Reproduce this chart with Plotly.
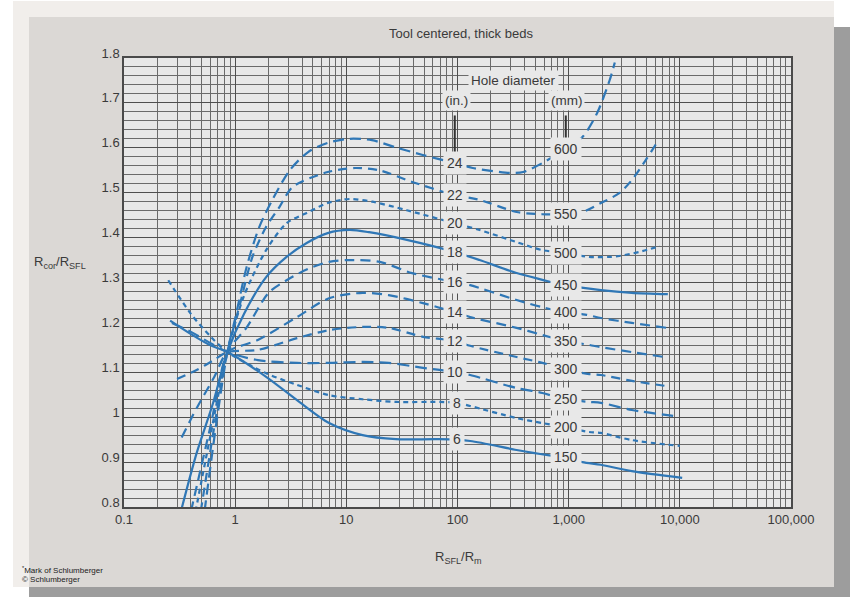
import math
import plotly.graph_objects as go

# ---------------- data ----------------
diam_in = [6, 8, 10, 12, 14, 16, 18, 20, 22, 24]
diam_mm = [150, 200, 250, 300, 350, 400, 450, 500, 550, 600]

c6_x = [0.26, 0.4, 0.6, 0.85, 1.9, 3.6, 7, 14, 28, 69, 130, 340, 630, 920, 1330, 1950, 3700, 10500]
c6_y = [1.215, 1.185, 1.16, 1.145, 1.09, 1.038, 0.987, 0.96, 0.951, 0.951, 0.947, 0.927, 0.916, 0.911, 0.9, 0.894, 0.88, 0.865]

c8_x = [0.25, 0.4, 0.6, 0.85, 1.9, 3.6, 7, 14, 28, 69, 100, 130, 340, 580, 920, 1530, 1950, 3700, 10000]
c8_y = [1.305, 1.23, 1.18, 1.145, 1.098, 1.072, 1.049, 1.04, 1.034, 1.034, 1.032, 1.025, 0.998, 0.987, 0.978, 0.967, 0.965, 0.949, 0.936]

c10_x = [0.27, 0.4, 0.6, 0.85, 1.6, 3.6, 7, 14, 24, 49, 94, 130, 340, 580, 920, 1530, 1950, 3700, 8700]
c10_y = [1.21, 1.19, 1.165, 1.145, 1.127, 1.121, 1.121, 1.123, 1.121, 1.11, 1.101, 1.094, 1.065, 1.054, 1.04, 1.034, 1.032, 1.016, 1.003]

c12_x = [0.30, 0.45, 0.65, 0.85, 1.6, 3.6, 7, 14, 24, 49, 94, 130, 340, 580, 920, 1530, 1950, 3700, 7800]
c12_y = [1.085, 1.105, 1.128, 1.145, 1.15, 1.176, 1.194, 1.201, 1.199, 1.179, 1.17, 1.159, 1.134, 1.121, 1.107, 1.096, 1.094, 1.081, 1.069]

c14_x = [0.33, 0.45, 0.65, 0.85, 1.6, 3.6, 7, 14, 24, 49, 94, 130, 340, 580, 920, 1530, 1950, 3700, 7300]
c14_y = [0.955, 1.02, 1.09, 1.145, 1.172, 1.223, 1.265, 1.277, 1.272, 1.254, 1.234, 1.223, 1.199, 1.183, 1.17, 1.161, 1.156, 1.145, 1.134]

c16_x = [0.40, 0.6, 0.85, 1.27, 2.0, 2.9, 4.5, 7, 10.7, 20, 39, 94, 130, 340, 580, 920, 1450, 1950, 3700, 7600]
c16_y = [0.79, 0.98, 1.145, 1.2, 1.277, 1.305, 1.33, 1.346, 1.35, 1.346, 1.321, 1.301, 1.294, 1.261, 1.245, 1.234, 1.228, 1.221, 1.21, 1.199]

c18_x = [0.325, 0.45, 0.63, 0.85, 1.2, 1.9, 2.9, 4.4, 6.8, 10.7, 16, 35, 94, 158, 340, 580, 920, 1950, 3700, 7800]
c18_y = [0.79, 0.92, 1.03, 1.145, 1.23, 1.312, 1.357, 1.388, 1.41, 1.417, 1.412, 1.395, 1.368, 1.35, 1.321, 1.306, 1.294, 1.283, 1.277, 1.274]

c20_x = [0.44, 0.6, 0.85, 1.2, 1.9, 2.9, 4.4, 6.8, 10.7, 17, 35, 94, 158, 340, 580, 920, 1530, 2340, 2850, 4300, 6600]
c20_y = [0.79, 0.96, 1.145, 1.27, 1.372, 1.432, 1.455, 1.477, 1.486, 1.48, 1.461, 1.432, 1.417, 1.39, 1.372, 1.366, 1.357, 1.357, 1.359, 1.368, 1.381]

c22_x = [0.49, 0.65, 0.85, 1.1, 1.43, 1.9, 2.5, 3.3, 6.8, 12, 19.8, 39, 94, 158, 340, 580, 920, 1330, 1950, 2850, 3700, 4950, 6200]
c22_y = [0.79, 0.98, 1.145, 1.25, 1.357, 1.424, 1.468, 1.513, 1.546, 1.555, 1.55, 1.524, 1.495, 1.484, 1.457, 1.452, 1.452, 1.457, 1.477, 1.499, 1.528, 1.573, 1.611]

c24_x = [0.53, 0.68, 0.85, 1.0, 1.27, 1.65, 2.16, 3.1, 4.5, 6.8, 10.7, 17, 28.6, 48.7, 94, 137, 296, 390, 580, 920, 1330, 1800, 2340, 2600]
c24_y = [0.79, 0.99, 1.145, 1.22, 1.335, 1.424, 1.484, 1.55, 1.59, 1.611, 1.62, 1.617, 1.60, 1.584, 1.566, 1.555, 1.544, 1.546, 1.566, 1.597, 1.624, 1.677, 1.751, 1.79]

in_label_x = [98, 98, 94, 94, 94, 94, 94, 94, 94, 94]
in_label_y = [0.951, 1.032, 1.101, 1.170, 1.234, 1.301, 1.368, 1.433, 1.495, 1.566]
mm_label_x = 942
mm_label_y = [0.911, 0.978, 1.040, 1.107, 1.170, 1.234, 1.294, 1.366, 1.452, 1.597]

x_tickvals = [0.1, 1, 10, 100, 1000, 10000, 100000]
x_ticktext = ["0.1", "1", "10", "100", "1,000", "10,000", "100,000"]
y_tickvals = [0.8, 0.9, 1.0, 1.1, 1.2, 1.3, 1.4, 1.5, 1.6, 1.7, 1.8]
y_ticktext = ["0.8", "0.9", "1", "1.1", "1.2", "1.3", "1.4", "1.5", "1.6", "1.7", "1.8"]

curves = [(c6_x, c6_y), (c8_x, c8_y), (c10_x, c10_y), (c12_x, c12_y), (c14_x, c14_y),
          (c16_x, c16_y), (c18_x, c18_y), (c20_x, c20_y), (c22_x, c22_y), (c24_x, c24_y)]

# ---------------- styles ----------------
W, H = 850, 597
L, R, T, B = 124, 59, 58, 90
PW, PH = W - L - R, H - T - B
BLUE = "#2f77b6"
TXT = "#3a3a3a"
PLOTBG = "#e8e8e8"
FONT = "Liberation Sans, Arial, sans-serif"
dashes = ["solid", "5px,4px", "12px,6px", "9px,6px", "10px,6px", "10px,6px",
          "solid", "5px,4px", "9px,6px", "11px,6px"]

def px(x):
    return (x - L) / PW

def py(y):
    return (H - B - y) / PH

fig = go.Figure()
for (xs, ys), d, dash in zip(curves, diam_in, dashes):
    fig.add_trace(go.Scatter(x=xs, y=ys, mode="lines", name=f"{d} in.",
                             line=dict(color=BLUE, width=2.2, dash=dash,
                                       shape="spline", smoothing=0.8),
                             showlegend=False, hoverinfo="skip"))

shapes = [
    dict(type="rect", xref="paper", yref="paper", x0=px(29), x1=px(850), y0=py(597), y1=py(27),
         fillcolor="#9d9d9d", line=dict(width=0), layer="below"),
    dict(type="rect", xref="paper", yref="paper", x0=px(13), x1=px(834), y0=py(587), y1=py(1),
         fillcolor="#f1eeeb", line=dict(width=0), layer="below"),
    dict(type="rect", xref="paper", yref="paper", x0=px(29), x1=px(834), y0=py(587), y1=py(17),
         fillcolor="#dbd8d5", line=dict(width=0), layer="below"),
    dict(type="rect", xref="paper", yref="paper", x0=0, x1=1, y0=0, y1=1,
         fillcolor=PLOTBG, line=dict(width=0), layer="below"),
    # indicator bars under (in.) and (mm)
    dict(type="line", xref="x", yref="y", x0=94.5, x1=94.5, y0=1.588, y1=1.672,
         line=dict(color="#333333", width=2), layer="above"),
    dict(type="line", xref="x", yref="y", x0=942, x1=942, y0=1.617, y1=1.672,
         line=dict(color="#333333", width=2), layer="above"),
]

ann = []
lab_font = dict(family=FONT, size=14, color=TXT)
for d, lx, ly in zip(diam_in, in_label_x, in_label_y):
    ann.append(dict(x=math.log10(lx), y=ly, xref="x", yref="y", text=str(d), showarrow=False,
                    xanchor="center", yanchor="middle",
                    font=lab_font, bgcolor=PLOTBG, borderpad=3))
for d, ly in zip(diam_mm, mm_label_y):
    ann.append(dict(x=math.log10(mm_label_x), y=ly, xref="x", yref="y", text=str(d), showarrow=False,
                    xanchor="center", yanchor="middle",
                    font=lab_font, bgcolor=PLOTBG, borderpad=3))
hd_font = dict(family=FONT, size=13.5, color=TXT)
ann += [
    dict(x=px(513), y=py(80), xref="paper", yref="paper", text="Hole diameter", showarrow=False,
         xanchor="center", yanchor="middle", font=hd_font, bgcolor=PLOTBG, borderpad=2),
    dict(x=px(456), y=py(101), xref="paper", yref="paper", text="(in.)", showarrow=False,
         xanchor="center", yanchor="middle", font=hd_font, bgcolor=PLOTBG, borderpad=2),
    dict(x=px(566), y=py(101), xref="paper", yref="paper", text="(mm)", showarrow=False,
         xanchor="center", yanchor="middle", font=hd_font, bgcolor=PLOTBG, borderpad=2),
    dict(x=px(60), y=py(262), xref="paper", yref="paper", text="R<sub>cor</sub>/R<sub>SFL</sub>",
         xanchor="center", yanchor="middle",
         showarrow=False, font=dict(family=FONT, size=13, color=TXT)),
    dict(x=px(458), y=py(557), xref="paper", yref="paper", text="R<sub>SFL</sub>/R<sub>m</sub>",
         xanchor="center", yanchor="middle",
         showarrow=False, font=dict(family=FONT, size=13, color=TXT)),
    dict(x=px(20), y=py(570), xref="paper", yref="paper", xanchor="left", yanchor="middle",
         text="<sup>*</sup>Mark of Schlumberger", showarrow=False,
         font=dict(family="Liberation Sans Narrow, Liberation Sans, Arial", size=8, color="#222")),
    dict(x=px(20), y=py(579), xref="paper", yref="paper", xanchor="left", yanchor="middle",
         text="© Schlumberger", showarrow=False,
         font=dict(family="Liberation Sans Narrow, Liberation Sans, Arial", size=8, color="#222")),
]

fig.update_layout(
    width=W, height=H,
    margin=dict(l=L, r=R, t=T, b=B),
    paper_bgcolor="#ffffff",
    plot_bgcolor="rgba(0,0,0,0)",
    title=dict(text="Tool centered, thick beds", x=461 / W, xanchor="center",
               y=1 - 33 / H, yanchor="middle",
               font=dict(family=FONT, size=13, color=TXT)),
    shapes=shapes,
    annotations=ann,
    font=dict(family=FONT, color=TXT),
)

fig.update_xaxes(type="log", range=[-1, 5], tickmode="array", tickvals=x_tickvals, ticktext=x_ticktext,
                 ticks="", showgrid=True, gridcolor="#4f4f4f", gridwidth=1.4,
                 minor=dict(dtick="D1", showgrid=True, gridcolor="#6b6b6b", gridwidth=1.2, ticks=""),
                 showline=True, mirror=True, linecolor="#4a4a4a", linewidth=1.5,
                 tickfont=dict(size=13, color=TXT), zeroline=False)
fig.update_yaxes(range=[0.8, 1.8], tickmode="array", tickvals=y_tickvals, ticktext=y_ticktext,
                 ticks="", showgrid=True, gridcolor="#4f4f4f", gridwidth=1.4,
                 minor=dict(dtick=0.02, tick0=0.8, showgrid=True, gridcolor="#6b6b6b", gridwidth=1.2, ticks=""),
                 showline=True, mirror=True, linecolor="#4a4a4a", linewidth=1.5,
                 tickfont=dict(size=13, color=TXT), ticklabelshift=-5, zeroline=False)

fig.write_html("out.html")
